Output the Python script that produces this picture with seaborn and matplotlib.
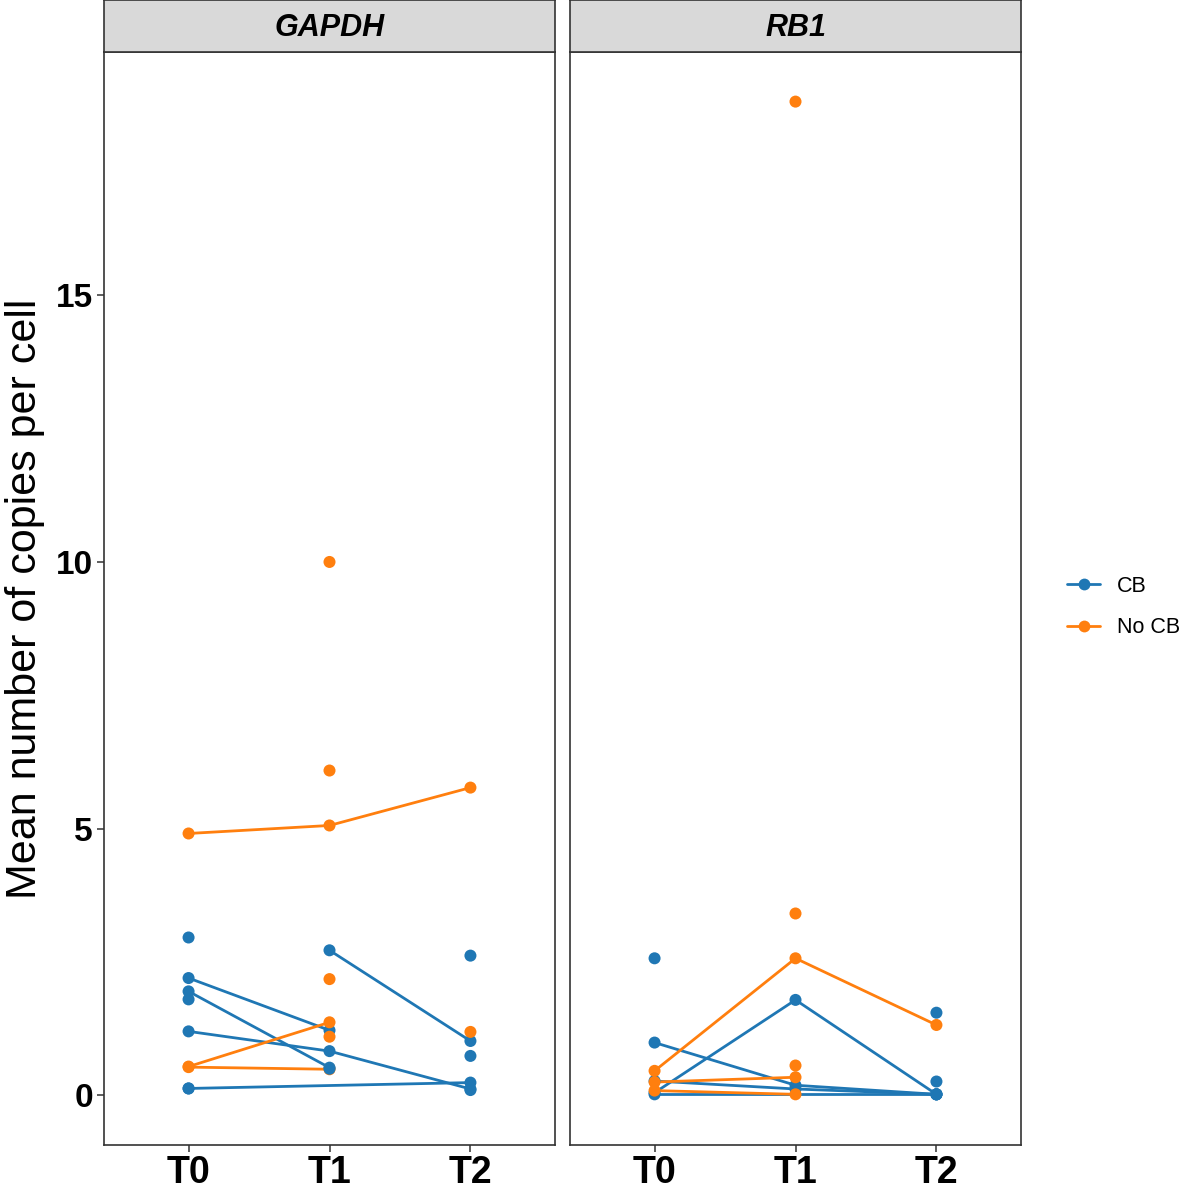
import numpy as np
import pandas as pd
import matplotlib
matplotlib.use("Agg")
import matplotlib.pyplot as plt
from matplotlib.lines import Line2D
import seaborn as sns

# ------------------------------------------------------------------
# Dados
# ------------------------------------------------------------------
genes = ["GAPDH", "RB1"]
timepoints = ["T0", "T1", "T2"]
groups = ["CB", "No CB"]
colors = ["#1F77B4", "#FF7F0E"]

gene = (["GAPDH"] * 30) + (["RB1"] * 24)
subject = [
    "G1", "G1", "G2", "G2", "G3", "G3", "G3", "G4", "G4", "G5", "G5",
    "G6", "G7", "G8", "G9",
    "G10", "G10", "G10", "G11", "G11", "G12", "G12",
    "G13", "G14", "G15", "G16", "G17",
    "G18", "G19", "G20",
    "R1", "R1", "R1", "R2", "R2", "R2", "R3", "R3", "R3", "R4", "R4",
    "R5", "R6", "R7",
    "R8", "R8", "R8", "R9", "R9", "R10", "R10",
    "R11", "R12", "R13",
]
group = (
    ["CB"] * 15 + ["No CB"] * 12 + ["CB"] * 3
    + ["CB"] * 14 + ["No CB"] * 10
)
timepoint = [
    "T0", "T1", "T0", "T1", "T0", "T1", "T2", "T1", "T2", "T0", "T2",
    "T0", "T0", "T2", "T2",
    "T0", "T1", "T2", "T0", "T1", "T0", "T1",
    "T1", "T1", "T1", "T1", "T2",
    "T2", "T1", "T0",
    "T0", "T1", "T2", "T0", "T1", "T2", "T0", "T1", "T2", "T0", "T2",
    "T0", "T2", "T2",
    "T0", "T1", "T2", "T0", "T1", "T0", "T1",
    "T1", "T1", "T1",
]
copies = [
    2.20, 1.22, 1.95, 0.52, 1.20, 0.83, 0.12, 2.72, 1.02, 0.13, 0.24,
    2.96, 1.80, 2.62, 0.74,
    4.91, 5.06, 5.77, 0.54, 1.37, 0.53, 0.49,
    10.0, 6.09, 2.18, 1.10, 1.19,
    0.10, 0.50, 0.13,
    0.05, 1.79, 0.02, 0.99, 0.19, 0.02, 0.27, 0.12, 0.02, 0.02, 0.02,
    2.57, 1.55, 0.26,
    0.46, 2.57, 1.32, 0.25, 0.34, 0.09, 0.02,
    18.63, 3.41, 0.56,
]

df = pd.DataFrame({"gene": gene, "subject": subject, "group": group,
                   "time": timepoint, "copies": copies})
df["x"] = df["time"].map({t: i + 1 for i, t in enumerate(timepoints)})
palette = dict(zip(groups, colors))

# ------------------------------------------------------------------
# Figura
# ------------------------------------------------------------------
sns.set_style("white")
plt.rcParams["font.family"] = ["Liberation Sans", "DejaVu Sans"]
plt.rcParams["text.color"] = "black"
plt.rcParams["axes.labelcolor"] = "black"
plt.rcParams["xtick.color"] = "black"
plt.rcParams["ytick.color"] = "black"

W, H = 1181, 1187
fig, axes = plt.subplots(1, 2, figsize=(W / 100, H / 100), dpi=100, sharey=True)
fig.subplots_adjust(left=104 / W, right=1021 / W, bottom=1 - 1145 / H,
                    top=1 - 52 / H, wspace=15 / 451)

for i, (ax, g) in enumerate(zip(axes, genes)):
    sub = df[df["gene"] == g]
    sns.lineplot(data=sub, x="x", y="copies", hue="group", units="subject",
                 estimator=None, palette=palette, hue_order=groups,
                 linewidth=2.0, legend=False, ax=ax)
    sns.scatterplot(data=sub, x="x", y="copies", hue="group", palette=palette,
                    hue_order=groups, s=75, linewidth=0, legend=False,
                    ax=ax, zorder=3)
    ax.set_xlim(0.4, 3.6)
    ax.set_ylim(-0.93, 19.56)
    ax.set_xticks([1, 2, 3])
    ax.set_xticklabels(timepoints, fontsize=27, fontweight="bold")
    ax.set_yticks([0, 5, 10, 15])
    ax.tick_params(axis="y", left=(i == 0), labelsize=24, length=5, width=1.1,
                   color="#333333", labelcolor="black", pad=3)
    ax.tick_params(axis="x", bottom=True, length=5, width=1.1,
                   color="#333333", labelcolor="black", pad=2)
    for lab in ax.get_yticklabels():
        lab.set_fontweight("bold")
    ax.set_xlabel("")
    ax.set_ylabel("")
    for sp in ax.spines.values():
        sp.set_color("#333333")
        sp.set_linewidth(1.2)

    # faixa do painel
    pos = ax.get_position()
    strip = fig.add_axes([pos.x0, pos.y1, pos.width, 52 / H])
    strip.set_facecolor("#D9D9D9")
    strip.set_xticks([])
    strip.set_yticks([])
    for sp in strip.spines.values():
        sp.set_color("#333333")
        sp.set_linewidth(1.2)
    strip.text(0.5, 0.47, g, ha="center", va="center", fontsize=22,
               fontweight="bold", fontstyle="italic", transform=strip.transAxes)

axes[0].set_ylabel("Mean number of copies per cell", fontsize=31, labelpad=8)

handles = [Line2D([0], [0], color=c, lw=2.0, marker="o", markersize=8.5,
                  markeredgewidth=0) for c in colors]
fig.legend(handles, groups, loc="center left",
           bbox_to_anchor=(1067 / W, 1 - 607 / H), frameon=False,
           fontsize=15.5, handlelength=1.55, handletextpad=0.75,
           labelspacing=0.95, borderpad=0, borderaxespad=0)

fig.savefig("out.png", dpi=100)
